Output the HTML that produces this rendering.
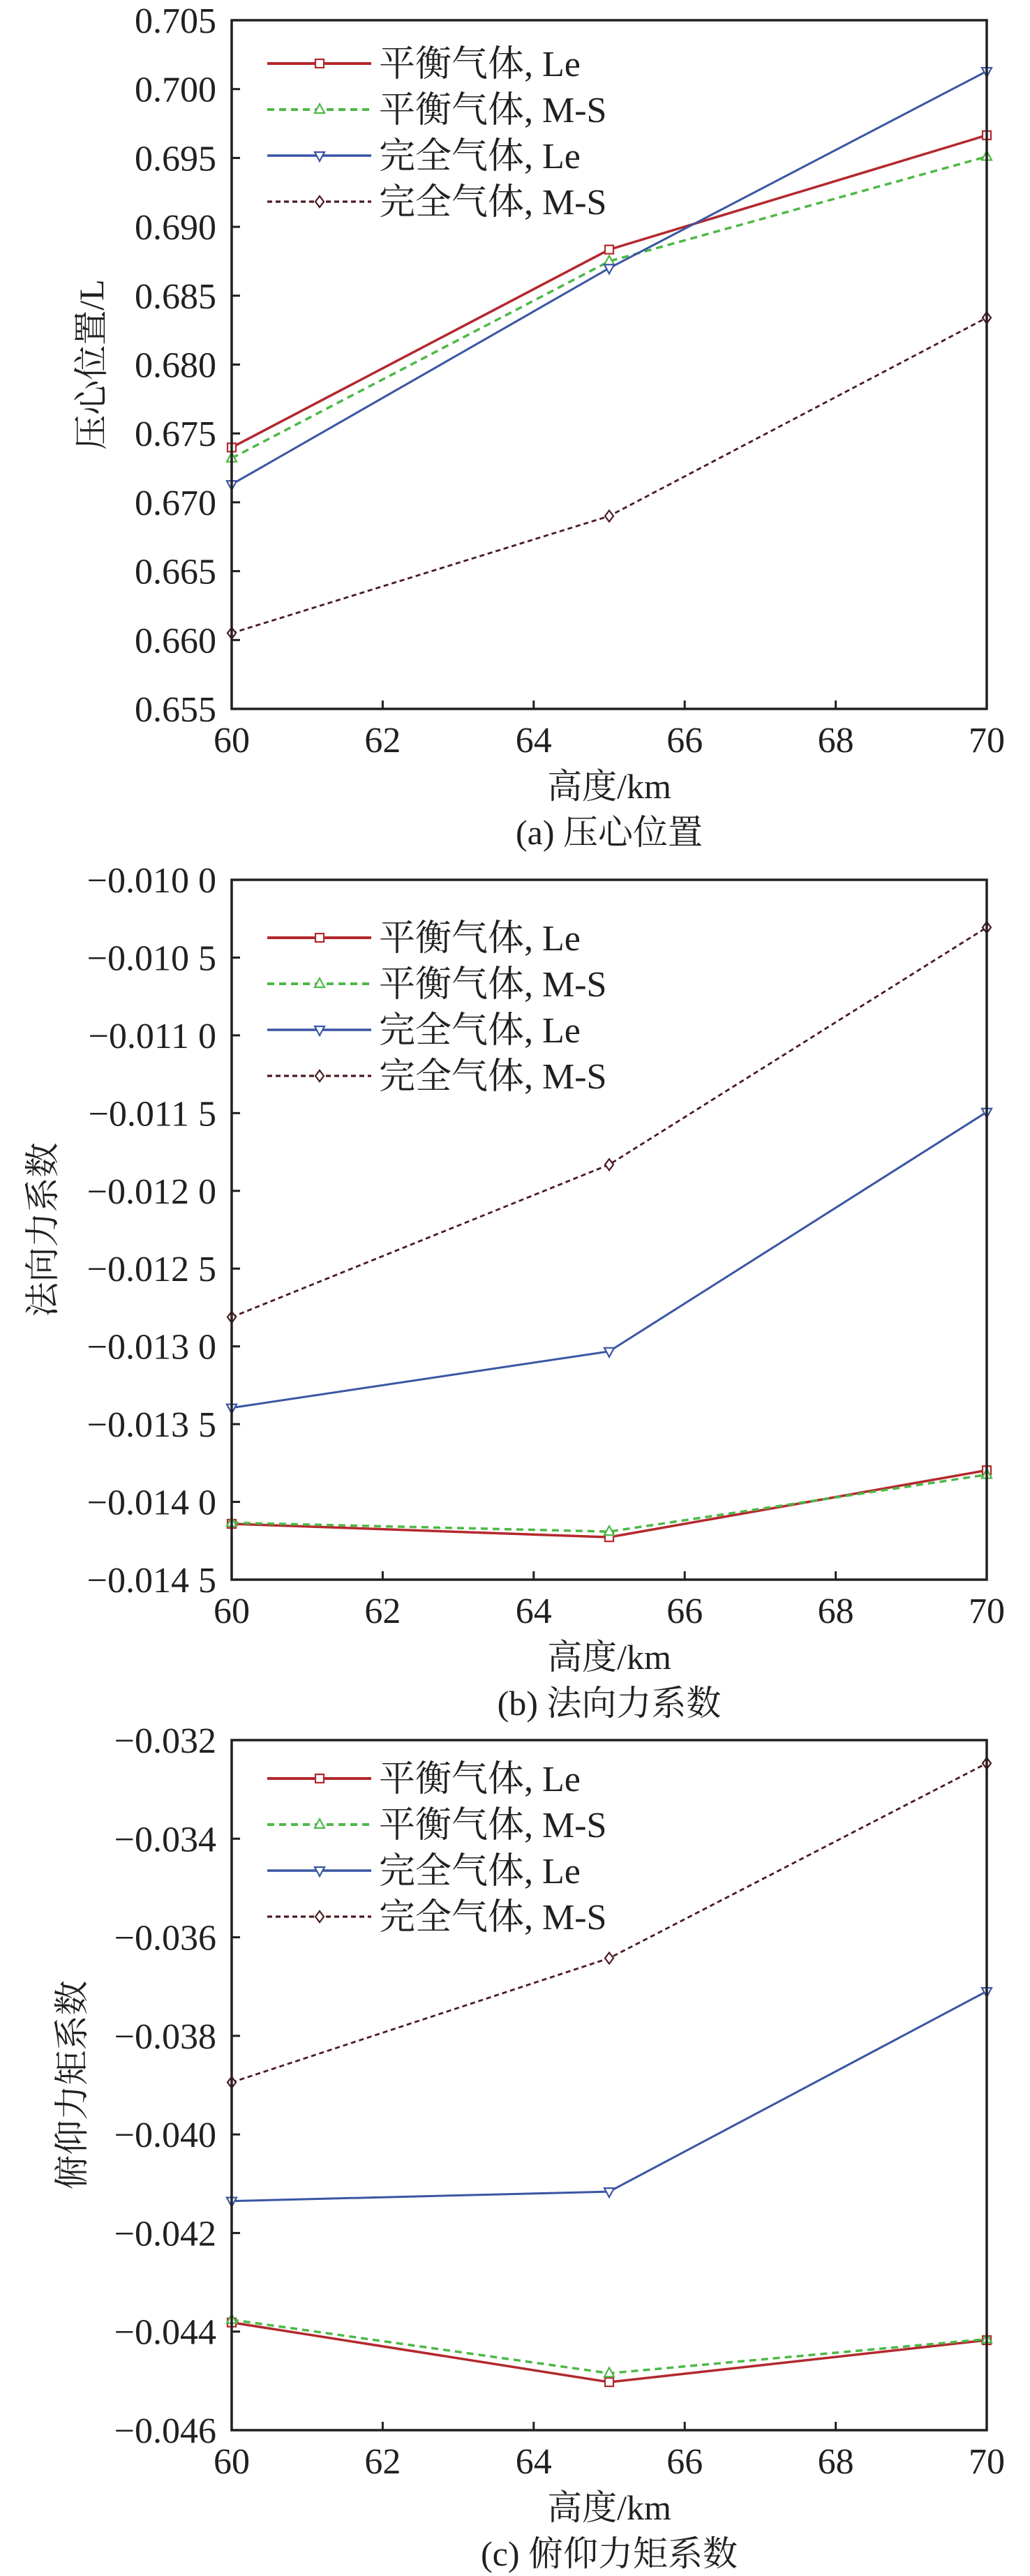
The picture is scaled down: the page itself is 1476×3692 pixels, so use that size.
<!DOCTYPE html>
<html><head><meta charset="utf-8"><style>
html,body{margin:0;padding:0;background:#fff;}
svg{display:block;}
text{font-family:"Liberation Serif","Noto Serif CJK SC","Noto Sans CJK SC",serif;fill:#231f20;}
</style></head><body>
<svg id="fig" width="1476" height="3692" viewBox="0 0 1476 3692" xmlns="http://www.w3.org/2000/svg"></svg>
<script>
const altitudes = [60, 65, 70];
const xTicks = [60, 62, 64, 66, 68, 70];
const seriesNames = ["平衡气体, Le", "平衡气体, M-S", "完全气体, Le", "完全气体, M-S"];

const cpEqLe = [0.67398, 0.68835, 0.69665];
const cpEqMS = [0.6732, 0.6875, 0.6951];
const cpPfLe = [0.6713, 0.6870, 0.7013];
const cpPfMS = [0.6605, 0.6690, 0.6834];
const cpTicks = [0.655,0.660,0.665,0.670,0.675,0.680,0.685,0.690,0.695,0.700,0.705];
const cpTickLabels = ["0.655","0.660","0.665","0.670","0.675","0.680","0.685","0.690","0.695","0.700","0.705"];

const cnEqLe = [-0.014141, -0.014227, -0.013797];
const cnEqMS = [-0.014134, -0.014191, -0.013825];
const cnPfLe = [-0.013395, -0.013032, -0.011493];
const cnPfMS = [-0.012812, -0.011831, -0.010306];
const cnTicks = [-0.0145,-0.0140,-0.0135,-0.0130,-0.0125,-0.0120,-0.0115,-0.0110,-0.0105,-0.0100];
const cnTickLabels = ["−0.014 5","−0.014 0","−0.013 5","−0.013 0","−0.012 5","−0.012 0","−0.011 5","−0.011 0","−0.010 5","−0.010 0"];

const cmEqLe = [-0.043815, -0.045025, -0.044174];
const cmEqMS = [-0.043759, -0.044845, -0.044152];
const cmPfLe = [-0.041351, -0.041160, -0.037096];
const cmPfMS = [-0.038944, -0.036424, -0.032470];
const cmTicks = [-0.046,-0.044,-0.042,-0.040,-0.038,-0.036,-0.034,-0.032];
const cmTickLabels = ["−0.046","−0.044","−0.042","−0.040","−0.038","−0.036","−0.034","−0.032"];

const NS = "http://www.w3.org/2000/svg";
const svg = document.getElementById('fig');
const styles = [
  {color:"#b3282d", w:3.5, dash:null, marker:"square"},
  {color:"#4db848", w:3.5, dash:"10 7", marker:"tri"},
  {color:"#3a55a3", w:3, dash:null, marker:"dtri"},
  {color:"#4a1a22", w:2.8, dash:"7 5", marker:"diamond"}
];
function mk(tag, attrs, parent){
  const e = document.createElementNS(NS, tag);
  for (const k in attrs) e.setAttribute(k, attrs[k]);
  (parent||svg).appendChild(e);
  return e;
}
function marker(g, type, x, y, color){
  let e;
  if (type==="square") e = mk('rect',{x:x-6,y:y-6,width:12,height:12,fill:'#fff',stroke:color,'stroke-width':2.2},g);
  else if (type==="tri") e = mk('polygon',{points:`${x},${y-8} ${x-7},${y+5} ${x+7},${y+5}`,fill:'#fff',stroke:color,'stroke-width':2.2},g);
  else if (type==="dtri") e = mk('polygon',{points:`${x},${y+8} ${x-7},${y-5} ${x+7},${y-5}`,fill:'#fff',stroke:color,'stroke-width':2.2},g);
  else e = mk('polygon',{points:`${x},${y-8} ${x+6},${y} ${x},${y+8} ${x-6},${y}`,fill:'#fff',stroke:color,'stroke-width':2.2},g);
  
  
}
function panel(cfg){
  const {id, top, bottom, ymin, ymax, ticks, tickLabels, series, ytitle, ytitleX, caption, legendTop} = cfg;
  const L = 332, R = 1414;
  const g = mk('g', {});
  
  
  const xs = v => L + (v - 60) / 10 * (R - L);
  const ys = v => bottom - (v - ymin) / (ymax - ymin) * (bottom - top);
  // series
  series.forEach((vals, i) => {
    const st = styles[i];
    const pts = vals.map((v, j) => xs(altitudes[j]) + "," + ys(v)).join(" ");
    const pl = mk('polyline', {points: pts, fill: 'none', stroke: st.color, 'stroke-width': st.w});
    if (st.dash) pl.setAttribute('stroke-dasharray', st.dash);
    
    
    g.appendChild(pl);
    vals.forEach((v, j) => marker(g, st.marker, xs(altitudes[j]), ys(v), st.color));
  });
  // axes box
  const box = mk('rect', {x: L, y: top, width: R - L, height: bottom - top, fill: 'none', stroke: '#231f20', 'stroke-width': 3.5}, g);
  
  
  // y ticks
  ticks.forEach((t, i) => {
    const y = ys(t);
    const tk = mk('line', {x1: L, x2: L + 12, y1: y, y2: y, stroke: '#231f20', 'stroke-width': 3}, g);
    
    
    const tx = mk('text', {x: 310, y: y + 18, 'text-anchor': 'end', 'font-size': 52}, g);
    tx.textContent = tickLabels[i];
    
    
  });
  // x ticks
  xTicks.forEach(t => {
    const x = xs(t);
    const tk = mk('line', {x1: x, x2: x, y1: bottom, y2: bottom - 12, stroke: '#231f20', 'stroke-width': 3}, g);
    
    
    const tx = mk('text', {x: x, y: bottom + 62, 'text-anchor': 'middle', 'font-size': 52}, g);
    tx.textContent = String(t);
    
    
  });
  const xt = mk('text', {x: 873, y: bottom + 128, 'text-anchor': 'middle', 'font-size': 50}, g);
  xt.textContent = "高度/km";
  
  
  const cap = mk('text', {x: 873, y: bottom + 194, 'text-anchor': 'middle', 'font-size': 50}, g);
  cap.textContent = caption;
  
  
  const cy = (top + bottom) / 2;
  const yt = mk('text', {x: ytitleX, y: cy, 'text-anchor': 'middle', 'font-size': 50, transform: `rotate(-90 ${ytitleX} ${cy})`, dy: 17}, g);
  yt.textContent = ytitle;
  
  
  // legend
  seriesNames.forEach((n, i) => {
    const y = legendTop + i * 66;
    const st = styles[i];
    const ln = mk('line', {x1: 383, x2: 532, y1: y, y2: y, stroke: st.color, 'stroke-width': st.w + 0.5}, g);
    if (st.dash) ln.setAttribute('stroke-dasharray', st.dash);
    
    
    marker(g, st.marker, 458, y, st.color);
    const tx = mk('text', {x: 543, y: y + 18, 'font-size': 52}, g);
    tx.textContent = n;
    
    
  });
}
panel({id:'chart-center-of-pressure', top:29, bottom:1016, ymin:0.655, ymax:0.705, ticks:cpTicks, tickLabels:cpTickLabels,
  series:[cpEqLe,cpEqMS,cpPfLe,cpPfMS], ytitle:"压心位置/L", ytitleX:131, caption:"(a) 压心位置", legendTop:91});
panel({id:'chart-normal-force', top:1261, bottom:2264, ymin:-0.0145, ymax:-0.0100, ticks:cnTicks, tickLabels:cnTickLabels,
  series:[cnEqLe,cnEqMS,cnPfLe,cnPfMS], ytitle:"法向力系数", ytitleX:61, caption:"(b) 法向力系数", legendTop:1344});
panel({id:'chart-pitching-moment', top:2494, bottom:3483, ymin:-0.046, ymax:-0.032, ticks:cmTicks, tickLabels:cmTickLabels,
  series:[cmEqLe,cmEqMS,cmPfLe,cmPfMS], ytitle:"俯仰力矩系数", ytitleX:103, caption:"(c) 俯仰力矩系数", legendTop:2549});
</script>
</body></html>
